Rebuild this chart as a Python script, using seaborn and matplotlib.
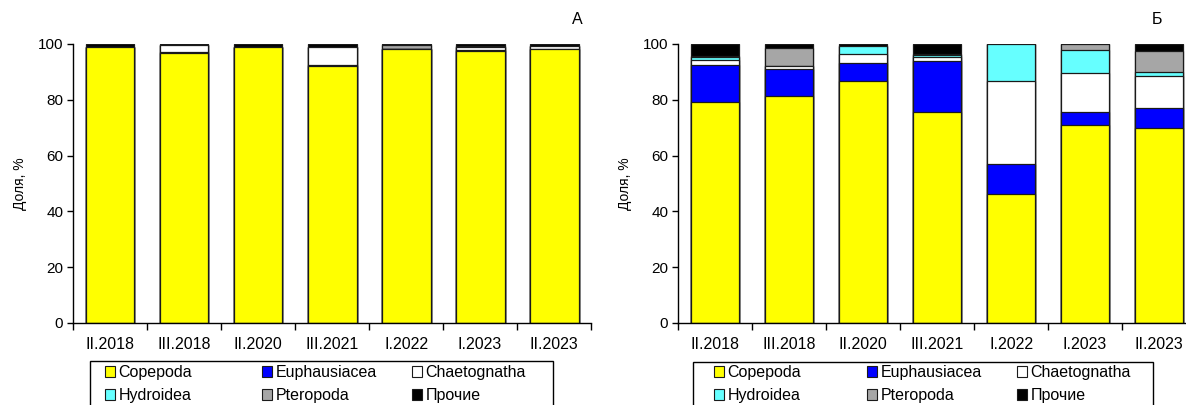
import numpy as np
import pandas as pd
import matplotlib
matplotlib.use('Agg')
import matplotlib.pyplot as plt
from matplotlib.patches import Patch, Rectangle
import seaborn as sns

# --- data ---
periods = ['II.2018', 'III.2018', 'II.2020', 'III.2021', 'I.2022', 'I.2023', 'II.2023']
groups = ['Copepoda', 'Euphausiacea', 'Chaetognatha', 'Hydroidea', 'Pteropoda', 'Прочие']

# panel A
a_copepoda = [98.8, 96.8, 98.8, 92.2, 98.1, 97.6, 98.2]
a_euphausiacea = [0.0, 0.4, 0.0, 0.3, 0.2, 0.3, 0.0]
a_chaetognatha = [0.0, 2.3, 0.0, 6.3, 0.0, 1.0, 1.0]
a_hydroidea = [0.0, 0.0, 0.0, 0.0, 0.0, 0.0, 0.0]
a_pteropoda = [0.0, 0.0, 0.0, 0.0, 1.2, 0.3, 0.0]
a_other = [1.2, 0.5, 1.2, 1.2, 0.5, 0.8, 0.8]

# panel B
b_copepoda = [79.3, 81.4, 86.8, 75.7, 46.3, 71.0, 69.7]
b_euphausiacea = [13.0, 9.6, 6.3, 18.1, 10.5, 4.7, 7.3]
b_chaetognatha = [2.1, 1.2, 3.3, 1.4, 30.0, 13.8, 11.4]
b_hydroidea = [0.9, 0.0, 2.8, 1.0, 13.2, 8.5, 1.4]
b_pteropoda = [0.2, 6.2, 0.0, 0.3, 0.0, 2.0, 7.6]
b_other = [4.5, 1.6, 0.8, 3.5, 0.0, 0.0, 2.6]

colors = ['#FFFF00', '#0000FF', '#FFFFFF', '#66FFFF', '#A6A6A6', '#000000']

sns.set_theme(style='ticks')
plt.rcParams['font.family'] = ['Liberation Sans', 'DejaVu Sans']

W, H = 1186, 405
fig = plt.figure(figsize=(W / 100, H / 100), dpi=100)
ax_a = fig.add_axes([0.0616, 0.2025, 0.4368, 0.689])
ax_b = fig.add_axes([0.5717, 0.2025, 0.4368, 0.689])


def draw_panel(ax, series, letter, letter_x, frame_px, col_px):
    df = pd.DataFrame(dict(zip(groups, series)), index=periods)
    cum = df.cumsum(axis=1)
    # draw from the top layer down so each lower layer covers the one above
    for grp, col in zip(reversed(groups), reversed(colors)):
        sns.barplot(x=periods, y=cum[grp].values, color=col, width=0.66,
                    edgecolor='#1a1a1a', linewidth=0.9, saturation=1, ax=ax)
    ax.set_ylim(0, 100)
    ax.set_xlim(-0.5, len(periods) - 0.5)
    ax.set_yticks(range(0, 101, 20))
    ax.tick_params(axis='y', labelsize=11, length=4, width=1, color='black',
                   labelcolor='black', pad=3)
    ax.tick_params(axis='x', which='major', labelsize=11.5, length=0, pad=10,
                   labelcolor='black')
    ax.set_xticks(np.arange(-0.5, len(periods), 1), minor=True)
    ax.tick_params(axis='x', which='minor', length=5, width=1, color='black')
    ax.set_ylabel('Доля, %', fontsize=10, labelpad=8, color='black')
    ax.set_xlabel('')
    sns.despine(ax=ax)
    for sp in ['left', 'bottom']:
        ax.spines[sp].set_color('black')
        ax.spines[sp].set_linewidth(1)
    ax.text(letter_x, 1.06, letter, transform=ax.transAxes, fontsize=11.5,
            ha='center', va='bottom', color='black')

    # legend frame (cut by the bottom edge, as in the reference)
    x0, x1, top = frame_px
    fig.patches.append(Rectangle((x0 / W, 1 - (H + 12) / H), (x1 - x0) / W, (H + 12 - top) / H,
                                 transform=fig.transFigure, facecolor='white',
                                 edgecolor='black', linewidth=1, zorder=1))
    # three fixed-width columns, two rows each
    for c, xp in enumerate(col_px):
        idx = [c, c + 3]
        handles = [Patch(facecolor=colors[i], edgecolor='#1a1a1a', linewidth=0.8) for i in idx]
        fig.legend(handles, [groups[i] for i in idx], ncol=1, loc='upper left',
                   bbox_to_anchor=(xp / W, 1 - 365 / H), bbox_transform=fig.transFigure,
                   fontsize=11.5, frameon=False, labelcolor='black',
                   handlelength=0.65, handleheight=0.65, handletextpad=0.2,
                   labelspacing=0.5, borderpad=0, borderaxespad=0)


draw_panel(ax_a, [a_copepoda, a_euphausiacea, a_chaetognatha, a_hydroidea, a_pteropoda, a_other],
           'А', 0.973, (90, 553, 361), (105, 262, 412))
draw_panel(ax_b, [b_copepoda, b_euphausiacea, b_chaetognatha, b_hydroidea, b_pteropoda, b_other],
           'Б', 0.925, (693, 1153, 362), (714, 867, 1017))

fig.savefig('out.png', dpi=100)
plt.close(fig)
